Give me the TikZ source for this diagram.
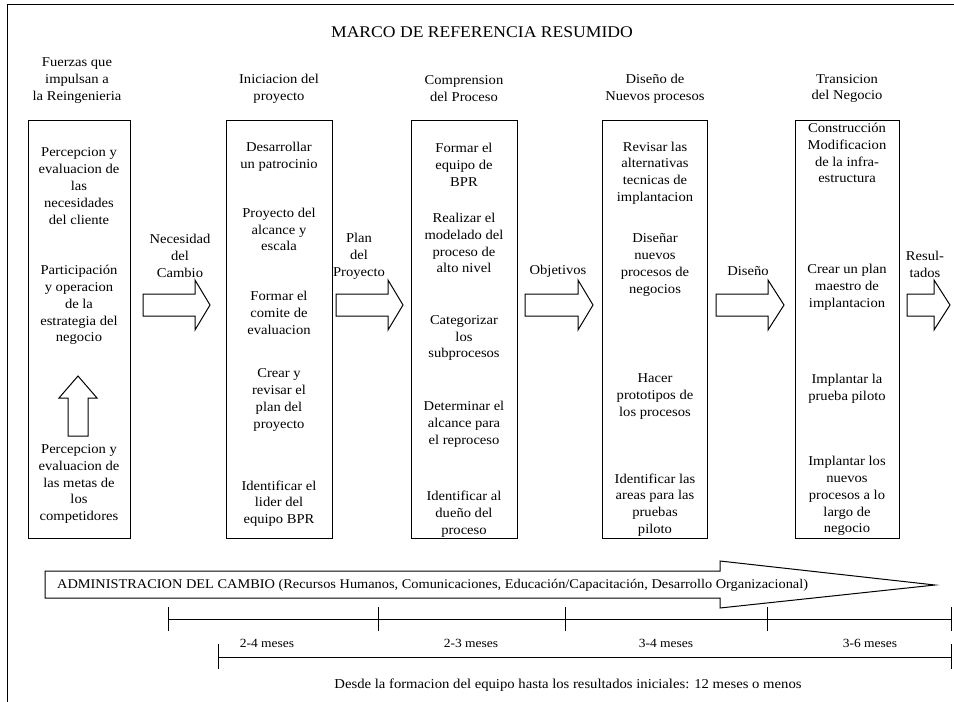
\documentclass[tikz,border=0pt]{standalone}
\usepackage{fontspec}
\setmainfont[FakeStretch=1.08]{Liberation Serif}
\newcommand{\rblock}[3]{\draw[blk] (#1,294) -- (#2,294) -- (#2,280) -- (#3,305) -- (#2,330) -- (#2,316) -- (#1,316) -- cycle;}
\begin{document}
\begin{tikzpicture}[x=1pt,y=-1pt,
  box/.style={draw, line width=1pt, minimum height=418pt, anchor=north west, inner sep=0pt},
  txt/.style={align=center, font=\fontsize{13.5}{16.8}\selectfont, inner sep=0pt},
  small/.style={font=\fontsize{12.5}{15}\selectfont, inner sep=0pt},
  band/.style={font=\fontsize{13.3}{16}\selectfont, inner sep=0pt},
  foot/.style={font=\fontsize{13.6}{16}\selectfont, inner sep=0pt},
  blk/.style={draw, line width=1pt, fill=white, line join=miter},
  tl/.style={line width=1pt}
]
\useasboundingbox (0,0) rectangle (954,702);
\draw[line width=1pt] (7,702) -- (7,4) -- (954,4);

\node[font=\fontsize{16.3}{19}\selectfont, inner sep=0pt] (title) at (482,32) {MARCO DE REFERENCIA RESUMIDO};

% headers
\node[txt] (h1) at (77,80.5) {Fuerzas que\\impulsan a\\la Reingenieria};
\node[txt] (h2) at (279,88.5) {Iniciacion del\\proyecto};
\node[txt] (h3) at (464,88.5) {Comprension\\del Proceso};
\node[txt] (h4) at (655,88.5) {Diseño de\\Nuevos procesos};
\node[txt] (h5) at (847,88.5) {Transicion\\del Negocio};

% boxes
\node[box, minimum width=102pt] (b1) at (28,120) {};
\node[box, minimum width=106pt] (b2) at (226,120) {};
\node[box, minimum width=106pt] (b3) at (411,120) {};
\node[box, minimum width=105pt] (b4) at (602,120) {};
\node[box, minimum width=104pt] (b5) at (795,120) {};

% box 1
\node[txt] (t11) at (79,186) {Percepcion y\\evaluacion de\\las\\necesidades\\del cliente};
\node[txt] (t12) at (79,305) {Participación\\y operacion\\de la\\estrategia del\\negocio};
\node[txt] (t13) at (79,484) {Percepcion y\\evaluacion de\\las metas de\\los\\competidores};
\draw[blk] (68,436) -- (88,436) -- (88,398) -- (97,398) -- (78,376) -- (59,398) -- (68,398) -- cycle;

% box 2
\node[txt] (t21) at (279,156.5) {Desarrollar\\un patrocinio};
\node[txt] (t22) at (279,229.5) {Proyecto del\\alcance y\\escala};
\node[txt] (t23) at (279,313) {Formar el\\comite de\\evaluacion};
\node[txt] (t24) at (279,400) {Crear y\\revisar el\\plan del\\proyecto};
\node[txt] (t25) at (279,503.5) {Identificar el\\lider del\\equipo BPR};

% box 3
\node[txt] (t31) at (464,165) {Formar el\\equipo de\\BPR};
\node[txt] (t32) at (464,243) {Realizar el\\modelado del\\proceso de\\alto nivel};
\node[txt] (t33) at (464,338) {Categorizar\\los\\subprocesos};
\node[txt] (t34) at (464,424.5) {Determinar el\\alcance para\\el reproceso};
\node[txt] (t35) at (464,514) {Identificar al\\dueño del\\proceso};

% box 4
\node[txt] (t41) at (655,173) {Revisar las\\alternativas\\tecnicas de\\implantacion};
\node[txt] (t42) at (655,265) {Diseñar\\nuevos\\procesos de\\negocios};
\node[txt] (t43) at (655,396.5) {Hacer\\prototipos de\\los procesos};
\node[txt] (t44) at (655,505) {Identificar las\\areas para las\\pruebas\\piloto};

% box 5
\node[txt] (t51) at (847,153) {Construcción\\Modificacion\\de la infra-\\estructura};
\node[txt] (t52) at (847,287) {Crear un plan\\maestro de\\implantacion};
\node[txt] (t53) at (847,388.5) {Implantar la\\prueba piloto};
\node[txt] (t54) at (847,496) {Implantar los\\nuevos\\procesos a lo\\largo de\\negocio};

% block arrows between columns
\rblock{143}{195}{210}
\rblock{336}{388}{403}
\rblock{525}{578}{593}
\rblock{716}{768}{784}
\rblock{907}{934}{950}
\node[txt] (a1) at (180,256) {Necesidad\\del\\Cambio};
\node[txt] (a2) at (359,256) {Plan\\del\\Proyecto};
\node[txt] (a3) at (558,271) {Objetivos};
\node[txt] (a4) at (748,271) {Diseño};
\node[txt] (a5) at (925,264) {Resul-\\tados};

% change management band
\draw[blk] (45,571) -- (720,571) -- (720,561) -- (935,585) -- (720,608) -- (720,598) -- (45,598) -- cycle;
\node[band, anchor=west] (adm) at (57,585) {ADMINISTRACION DEL CAMBIO (Recursos Humanos, Comunicaciones, Educación/Capacitación, Desarrollo Organizacional)};

% timelines
\coordinate (p0) at (168,619);
\coordinate (p1) at (378,619);
\coordinate (p2) at (565,619);
\coordinate (p3) at (767,619);
\coordinate (p4) at (951,619);
\draw[tl] (p0) -- (p4);
\foreach \p in {p0,p1,p2,p3,p4} \draw[tl] ([yshift=-12pt]\p) -- ([yshift=12pt]\p);
\coordinate (q0) at (218,657);
\coordinate (q1) at (951,657);
\draw[tl] (q0) -- (q1);
\foreach \p in {q0,q1} \draw[tl] ([yshift=-12pt]\p) -- ([yshift=13pt]\p);
\node[small] (m1) at (267,643) {2-4 meses};
\node[small] (m2) at (471,643) {2-3 meses};
\node[small] (m3) at (666,643) {3-4 meses};
\node[small] (m4) at (870,643) {3-6 meses};
\node[foot] (desde) at (568,685) {Desde la formacion del equipo hasta los resultados iniciales: 12 meses o menos};
\end{tikzpicture}
\end{document}
